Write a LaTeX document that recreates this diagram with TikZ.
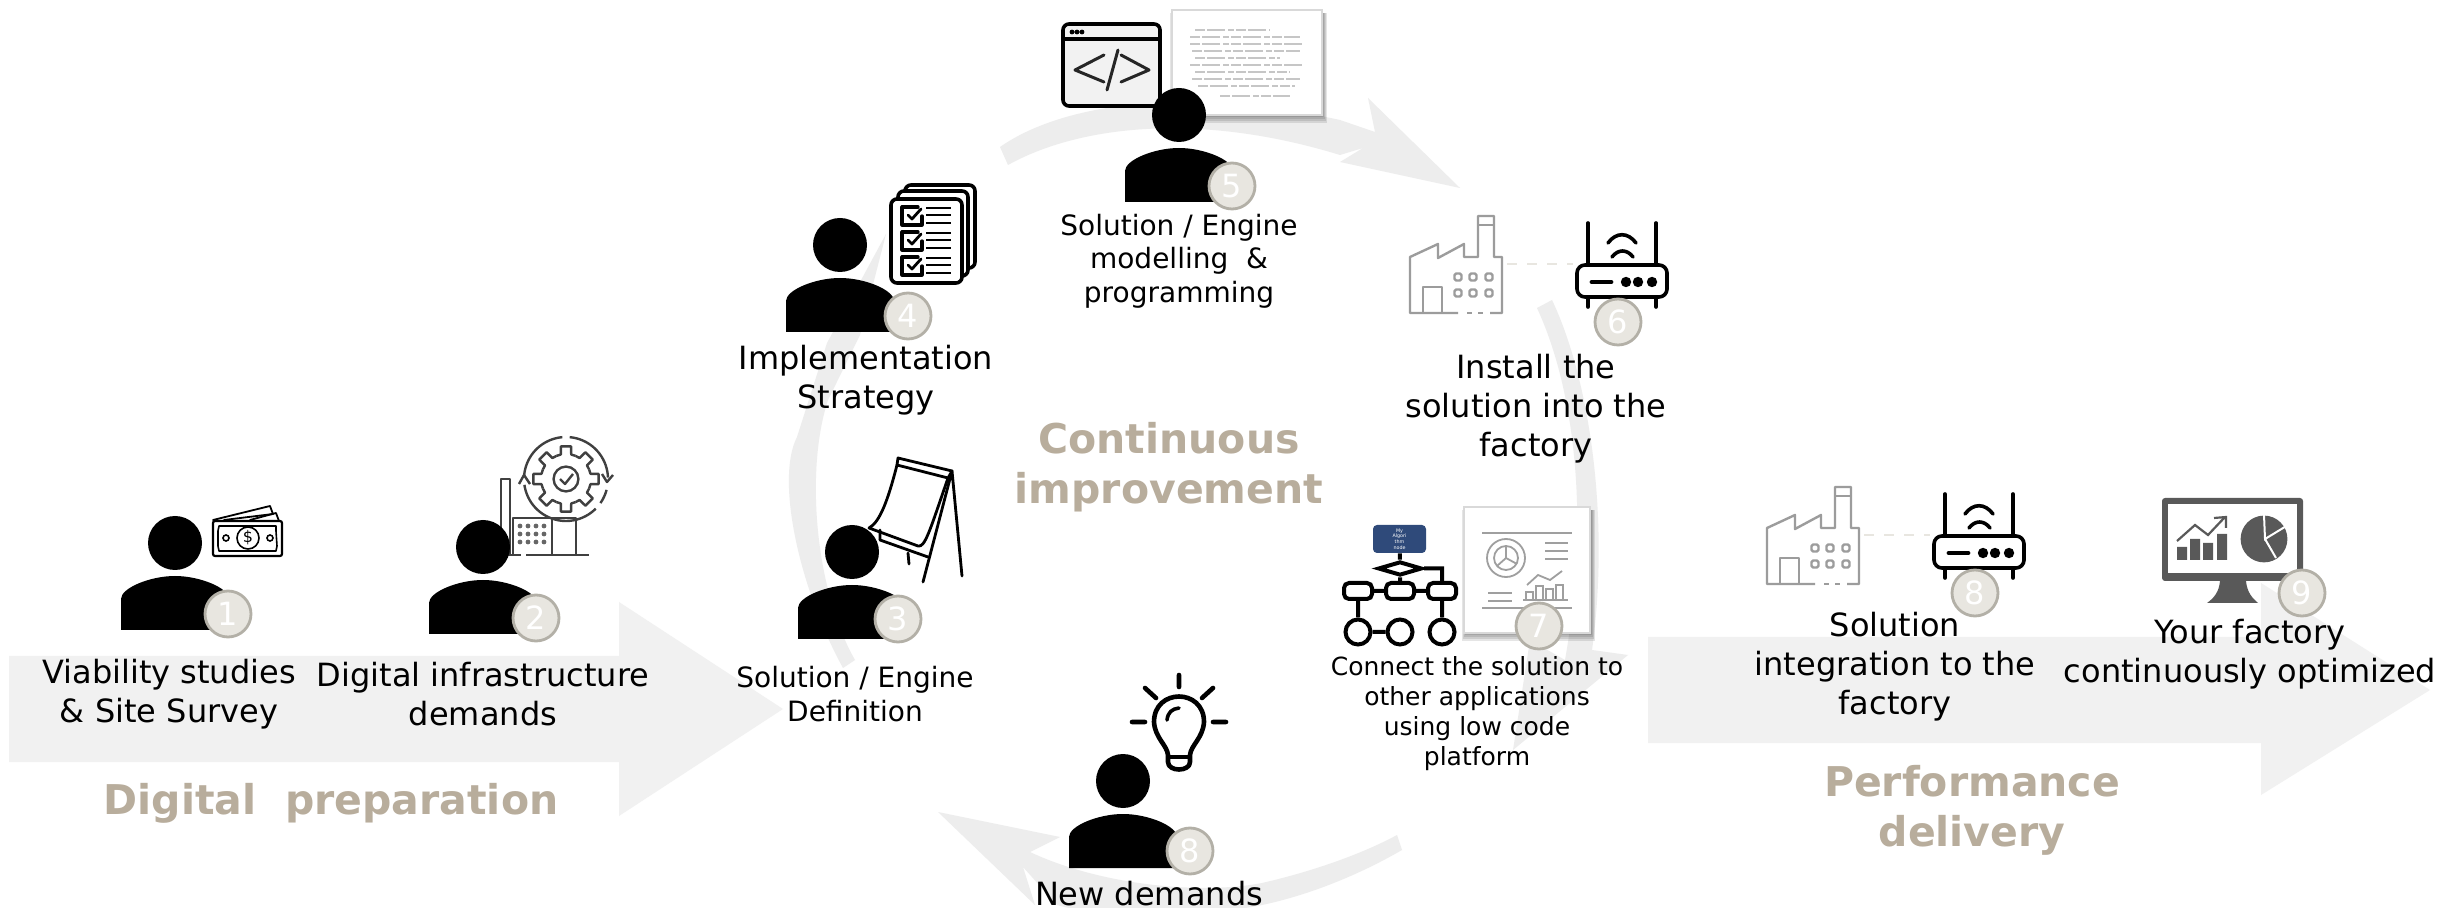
\documentclass[tikz,border=0pt]{standalone}
\usepackage{fontspec}
\setmainfont{DejaVu Sans}
\usetikzlibrary{shapes.geometric,arrows.meta}
\definecolor{bandgray}{HTML}{F1F1F1}
\definecolor{ringgray}{HTML}{EDEDED}
\definecolor{headtan}{HTML}{B8AD9C}
\definecolor{badgefill}{HTML}{E8E6E0}
\definecolor{badgeline}{HTML}{B3B0A7}
\definecolor{iconfade}{HTML}{9C9C9C}
\definecolor{icondark}{HTML}{595959}
\definecolor{flowblue}{HTML}{2F4A7A}
\tikzset{
  px32/.style={font=\fontsize{16}{19.5}\selectfont,align=center,inner sep=0pt,text=black},
  px28/.style={font=\fontsize{14}{16.8}\selectfont,align=center,inner sep=0pt,text=black},
  px25/.style={font=\fontsize{12.5}{15}\selectfont,align=center,inner sep=0pt,text=black},
  headtext/.style={font=\fontsize{20.5}{25}\selectfont\bfseries,align=center,inner sep=0pt,text=headtan},
  badge/.style={circle,minimum size=23pt,inner sep=0pt,fill=badgefill,draw=badgeline,line width=1.4pt,text=white,font=\fontsize{16}{16}\selectfont},
  icon/.style={line width=1.8pt,draw=black,line join=round,line cap=round},
  thinicon/.style={line width=1.2pt,draw=black!75,line join=round},
  fadeicon/.style={line width=1.2pt,draw=iconfade,line join=round},
  flowbox/.style={draw=black,line width=2pt,rounded corners=2.5pt,minimum width=14pt,minimum height=8pt,inner sep=0pt,fill=white},
  flowcirc/.style={draw=black,line width=2pt,circle,minimum size=12.5pt,inner sep=0pt,fill=white},
  flowline/.style={draw=black,line width=2pt},
  cardline/.style={line width=1pt,draw=gray!45,dash pattern=on 5pt off 1pt on 9pt off 1.5pt on 3pt off 1pt},
  dashline/.style={line width=.9pt,draw=gray!75},
}
\newcommand{\personfig}[2]{%
  \begin{scope}[shift={(#1,#2)}]
    \fill[black] (0,0) circle [radius=13.5pt];
    \fill[black] (-54,87) -- (-54,56) .. controls (-54,45) and (-25,33) .. (0,33) .. controls (25,33) and (54,45) .. (54,56) -- (54,87) -- cycle;
  \end{scope}}
\newcommand{\cardshadow}[4]{%
  \foreach \d in {7,5,3,1} {\fill[black,opacity=.10] (#1+1-\d/2,#2+3) rectangle (#3+1+\d/2,#4+1.5+\d);}
  \fill[white] (#1,#2) rectangle (#3,#4);
  \draw[gray!30,line width=.8pt] (#1,#2) rectangle (#3,#4);}
\newcommand{\factoryrouter}[3]{%
  \begin{scope}[shift={(#1,#2)}]
    \draw[fadeicon] (1458,313) -- (1410,313) -- (1410,257) -- (1438,244) -- (1438,258) -- (1464,244) -- (1464,257) -- (1478,257) -- (1478,216) -- (1494,216) -- (1494,257) -- (1502,257) -- (1502,313) -- (1490,313);
    \draw[fadeicon] (1467,313) -- (1472,313) (1478,313) -- (1483,313);
    \draw[fadeicon] (1478,225) -- (1494,225);
    \draw[fadeicon] (1423,313) -- (1423,287) -- (1442,287) -- (1442,313);
    \foreach \wx in {1458,1473,1489} \foreach \wy in {277,293}
      \draw[fadeicon,rounded corners=.8pt] (\wx-3.5,\wy-3.5) rectangle (\wx+3.5,\wy+3.5);
    \coordinate (#3fac) at (1507,264);
    \coordinate (#3rou) at (1573,264);
    \draw[line width=1pt,draw=badgefill,dash pattern=on 5pt off 5pt] (#3fac) -- (#3rou);
    \draw[icon,rounded corners=4pt] (1577,265) rectangle (1667,297);
    \draw[icon] (1588,223) -- (1588,265) (1656,223) -- (1656,265);
    \draw[icon] (1608,243) .. controls (1616,232) and (1628,232) .. (1636,243);
    \draw[icon] (1612,257) .. controls (1618,249) and (1627,249) .. (1633,257);
    \draw[icon] (1588,297) -- (1588,307) (1656,297) -- (1656,307);
    \draw[icon,line width=2.4pt] (1592,282) -- (1611,282);
    \fill[black] (1626,282) circle [radius=2.6pt] (1638,282) circle [radius=2.6pt] (1652,282) circle [radius=2.6pt];
  \end{scope}}
\begin{document}
\begin{tikzpicture}[x=.5pt,y=-.5pt]
\useasboundingbox (0,0) rectangle (2458,908);
\fill[white] (0,0) rectangle (2458,908);
% band arrows
\fill[bandgray] (9,656) -- (619,656) -- (619,602) -- (783,709) -- (619,816) -- (619,762) -- (9,762) -- cycle;
\fill[bandgray] (1648,637) -- (2261,637) -- (2261,583) -- (2430,690) -- (2261,795) -- (2261,743) -- (1648,743) -- cycle;
% ring
\fill[ringgray] (1000,147) .. controls (1060,105) and (1180,85) .. (1340,120) -- (1375,132) -- (1368,98) -- (1460,188) -- (1340,162) -- (1363,148) -- (1340,155) .. controls (1200,112) and (1080,125) .. (1008,165) -- cycle;
\fill[ringgray] (1537,308) -- (1552,300) .. controls (1590,380) and (1610,520) .. (1592,650) -- (1628,655) -- (1513,750) -- (1530,640) -- (1565,660) .. controls (1590,520) and (1575,390) .. cycle;
\fill[ringgray] (938,812) -- (1060,837) -- (1030,852) .. controls (1100,885) and (1200,895) .. (1262,883) .. controls (1310,872) and (1360,855) .. (1397,835) -- (1402,850) .. controls (1350,880) and (1300,897) .. (1262,905) .. controls (1200,918) and (1100,918) .. (1057,905) -- (1023,867) -- (1035,905) -- cycle;
\fill[ringgray] (843,668) .. controls (800,590) and (775,480) .. (797,437) -- (827,343) -- (886,234) -- (860,335) -- (828,400) .. controls (805,470) and (815,590) .. (855,660) -- cycle;
% money icon
\draw[icon,line width=1.1pt,rounded corners=1pt] (213,521) rectangle (282,556);
\draw[icon,line width=.8pt] (219,526) -- (276,526) -- (276,531) -- (277,546) -- (276,551) -- (219,551) -- (218,546) -- (218,531) -- cycle;
\node[circle,draw=black,line width=.8pt,minimum size=11pt,inner sep=0pt,font=\fontsize{8}{8}\selectfont] (dollar) at (248,538) {\$};
\draw[black,line width=.8pt] (226,538) circle [radius=1.5pt] (270,538) circle [radius=1.5pt];
\draw[icon,line width=.9pt] (213,520) -- (270,506) -- (273,514) -- (224,520);
\draw[icon,line width=.9pt] (250,520) -- (276,513) -- (279,521);
% gear factory icon
\begin{scope}[shift={(566,479)}]
  \foreach \a in {0,45,...,315}
    \draw[thinicon] (\a-22.5:25) -- (\a-12:25) -- (\a-9:33) -- (\a+9:33) -- (\a+12:25) -- (\a+22.5:25);
  \draw[thinicon] (0,0) circle [radius=6.2pt];
  \draw[thinicon] (-6,0) -- (-1,5) -- (7,-5);
  \draw[thinicon] plot[domain=-175:-95,samples=20] (\x:42);
  \draw[thinicon] plot[domain=-85:-2,samples=20] (\x:42);
  \draw[thinicon] plot[domain=15:35,samples=8] (\x:42);
  \draw[thinicon] plot[domain=45:172,samples=30] (\x:42);
  \draw[thinicon] (36,-5) -- (41,3) -- (47,-4);
  \draw[thinicon] (-47,5) -- (-42,-4) -- (-36,5);
\end{scope}
\draw[thinicon] (501,555) -- (501,479) -- (510,479) -- (510,555);
\draw[thinicon] (513,555) -- (513,518) -- (576,518) -- (576,555) (552,518) -- (552,555);
\draw[thinicon] (490,555) -- (521,555) (526,555) -- (589,555);
\foreach \gx in {520,528,536,544} \foreach \gy in {526,534,542}
  \fill[black!60] (\gx,\gy) circle [radius=1.2pt];
% code window and card
\cardshadow{1172}{10}{1322}{115}
\foreach \ly/\xa/\xb in {30/1195/1270,37/1190/1300,44/1190/1305,51/1192/1300,58/1195/1280,65/1190/1303,72/1195/1290,79/1192/1300,86/1198/1295,96/1220/1290}
  \draw[cardline] (\xa,\ly) -- (\xb,\ly);
\draw[icon,fill=black!5,rounded corners=3pt] (1063,24) rectangle (1160,106);
\draw[icon] (1063,39) -- (1160,39);
\fill[black] (1072,32) circle [radius=1.2pt] (1077,32) circle [radius=1.2pt] (1082,32) circle [radius=1.2pt];
\draw[icon,line width=1.5pt,draw=black!85] (1104,55) -- (1075,70) -- (1104,82) (1118,50) -- (1107,90) (1121,55) -- (1149,70) -- (1121,82);
% checklist
\draw[icon,rounded corners=3pt,fill=white] (905,185) rectangle (975,268);
\draw[icon,rounded corners=3pt,fill=white] (898,191) rectangle (968,276);
\draw[icon,rounded corners=3pt,fill=white] (891,199) rectangle (962,283);
\foreach \cy in {207,232,257} {
  \draw[icon,line width=1.6pt] (918,\cy) -- (902,\cy) -- (902,\cy+18) -- (922,\cy+18) -- (922,\cy+9);
  \draw[icon,line width=1.4pt] (908,\cy+8) -- (912,\cy+12) -- (921,\cy+2);
  \draw[icon,line width=1.4pt,line cap=butt] (926,\cy+1) -- (951,\cy+1) (926,\cy+8) -- (951,\cy+8) (926,\cy+16) -- (951,\cy+16);
}
% flip chart
\draw[icon,line width=1.4pt] (898,458) -- (952,471) -- (948,478) -- (897,465) -- cycle;
\draw[icon,line width=1.4pt] (897,465) .. controls (888,500) and (880,522) .. (869,528) -- (918,546) .. controls (925,548) and (930,530) .. (948,478);
\draw[icon,line width=1.4pt] (880,540) -- (928,557);
\draw[icon,line width=1.4pt] (952,471) -- (923,582) (952,471) -- (962,576) (908,553) -- (909,564) (880,530) -- (880,540);
% bulb
\draw[icon,line width=2.3pt] (1168,762) -- (1168,755) .. controls (1167,745) and (1155,738) .. (1154,722) .. controls (1154,688) and (1204,688) .. (1204,722) .. controls (1203,738) and (1191,745) .. (1190,755) -- (1190,762) .. controls (1190,772) and (1168,772) .. (1168,762) -- cycle;
\draw[icon,line width=1.6pt] (1168,757) -- (1190,757);
\draw[icon] (1167,720) .. controls (1168,712) and (1172,709) .. (1179,708);
\draw[icon,line width=2.3pt] (1179,675) -- (1179,687) (1132,722) -- (1145,722) (1213,722) -- (1226,722) (1145,688) -- (1156,698) (1213,688) -- (1202,698);
% factory and router
\factoryrouter{0}{0}{a}
\factoryrouter{357}{271}{b}
% dashboard
\cardshadow{1464}{507}{1590}{633}
\draw[dashline] (1482,533) -- (1572,533) (1482,608) -- (1572,608) (1523,600) -- (1568,600);
\draw[dashline] (1506,558) circle [radius=9.5pt] (1506,558) circle [radius=6pt];
\draw[dashline] (1506,546) -- (1506,558) -- (1517,564) (1506,558) -- (1497,566);
\draw[dashline] (1545,543) -- (1568,543) (1545,551) -- (1568,551) (1545,559) -- (1568,559);
\draw[dashline] (1488,593) -- (1512,593) (1488,601) -- (1512,601);
\draw[dashline] (1527,585) -- (1538,575) -- (1550,580) -- (1562,571);
\foreach \bx/\bt in {1526/592,1536/586,1546/589,1556/585}
  \draw[dashline] (\bx,600) -- (\bx,\bt) -- (\bx+7,\bt) -- (\bx+7,600);
% flow icon
\node[fill=flowblue,rounded corners=2pt,minimum width=26.5pt,minimum height=14pt,inner sep=0pt,text=white,align=center,font=\fontsize{2.4}{2.8}\selectfont] (falgo) at (1399.5,539) {My\\Algori\\thm\\node};
\node[diamond,draw=black,line width=2pt,aspect=2.6,minimum width=22pt,minimum height=7pt,inner sep=0pt] (fdec) at (1400,568.5) {};
\node[flowbox] (fb1) at (1358,591) {};
\node[flowbox] (fb2) at (1400,591) {};
\node[flowbox] (fb3) at (1442,591) {};
\node[flowcirc] (fc1) at (1358,632) {};
\node[flowcirc] (fc2) at (1400,632) {};
\node[flowcirc] (fc3) at (1442,632) {};
\draw[flowline] (falgo) -- (fdec) (fdec) -- (fb2) (fdec.east) -| (fb3) (fb1) -- (fb2) (fb2) -- (fb3) (fb1) -- (fc1) (fb3) -- (fc3) (fc1) -- (fc2);
% monitor
\fill[icondark,rounded corners=1.5pt] (2162,498) rectangle (2303,581);
\fill[white] (2168,504) rectangle (2297,573);
\fill[icondark] (2220,581) -- (2246,581) .. controls (2247,592) and (2252,598) .. (2258,603) -- (2207,603) .. controls (2214,598) and (2219,592) .. cycle;
\fill[icondark] (2177,547) rectangle (2187,560) (2190,539) rectangle (2200,560) (2203,543) rectangle (2213,560) (2217,534) rectangle (2227,560);
\draw[icondark,line width=1.1pt] (2177,541) -- (2195,525) -- (2208,535) -- (2225,517) (2214,518) -- (2226,517) -- (2226,528);
\fill[icondark] (2264,539) circle [radius=11.7pt];
\draw[white,line width=1pt] (2264,515) -- (2265,539) -- (2288,525) (2265,539) -- (2276,558);
% persons
\personfig{175}{543}
\personfig{483}{547}
\personfig{852}{552}
\personfig{840}{245}
\personfig{1179}{115}
\personfig{1123}{781}
% badges
\node[badge] (b1) at (228,614) {1};
\node[badge] (b2) at (536,618) {2};
\node[badge] (b3) at (898,619) {3};
\node[badge] (b4) at (908,316) {4};
\node[badge] (b5) at (1232,186) {5};
\node[badge] (b6) at (1618,322) {6};
\node[badge] (b7) at (1539,626) {7};
\node[badge] (b8) at (1975,593) {8};
\node[badge] (b8n) at (1190,851) {8};
\node[badge] (b9) at (2302,593) {9};
% labels
\node[px32] (t1) at (169,694) {Viability studies\\\& Site Survey};
\node[px32] (t2) at (483,694) {Digital infrastructure\\demands};
\node[px28] (t3) at (855,694) {Solution / Engine\\Definition};
\node[px32] (t4) at (866,380) {Implementation\\Strategy};
\node[px28] (t5) at (1179,261) {Solution / Engine\\modelling \ \&\\programming};
\node[px32] (t6) at (1536,409) {Install the\\solution into the\\factory};
\node[px25] (t7) at (1477,714) {Connect the solution to\\other applications\\using low code\\platform};
\node[px32] (t8) at (1895,667) {Solution\\integration to the\\factory};
\node[px32] (t9) at (2250,654) {Your factory\\continuously optimized};
\node[px32] (tn) at (1149,894) {New demands};
% headings
\node[headtext] (h1) at (331,803) {Digital\ \ preparation};
\node[headtext] (h2) at (1169,467) {Continuous\\improvement};
\node[headtext] (h3) at (1972,810) {Performance\\delivery};
\end{tikzpicture}
\end{document}
